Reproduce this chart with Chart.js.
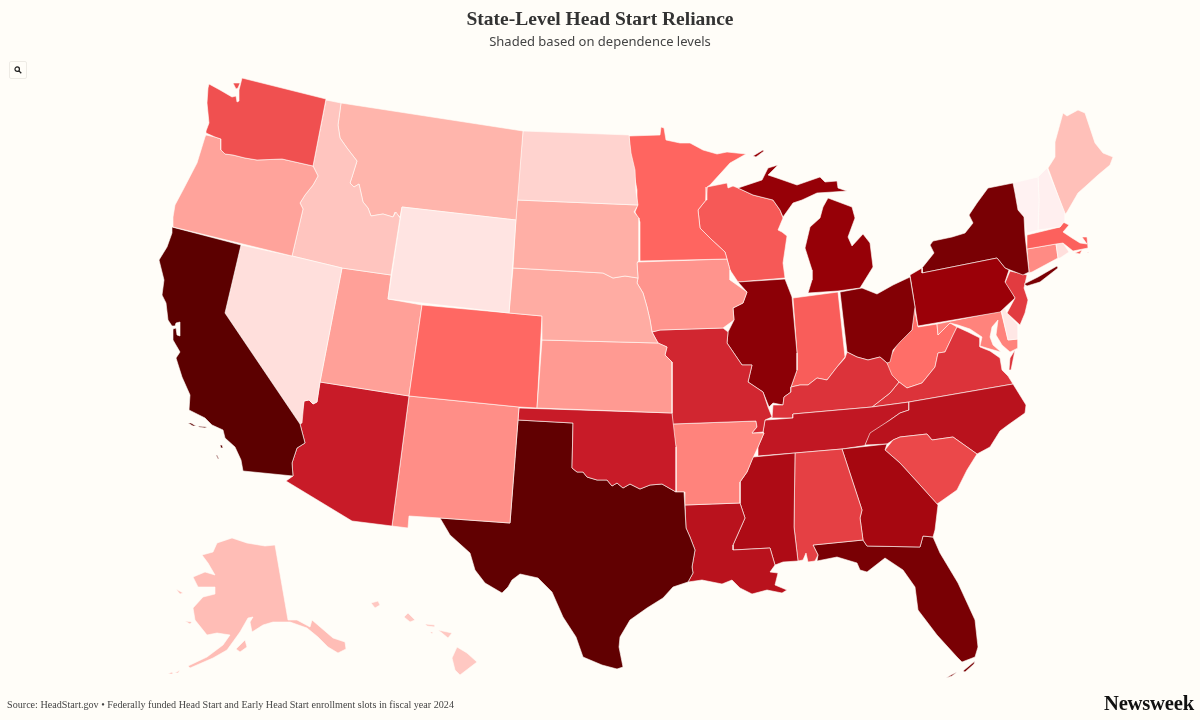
<!DOCTYPE html>
<html>
<head>
<meta charset="utf-8">
<title>State-Level Head Start Reliance</title>
<script src="https://cdn.jsdelivr.net/npm/chart.js@4"></script>
<style>
  html, body { margin: 0; padding: 0; background: #fffdf8; }
  #wrap { position: relative; width: 1200px; height: 720px; overflow: hidden; }
  #zoomBtn { position: absolute; left: 9px; top: 61px; width: 16px; height: 16px; background: #fffdf8; border: 1px solid #eeebe5; border-radius: 2px; }
  #zoomBtn svg { position: absolute; left: 4px; top: 4px; }
  #source { position: absolute; left: 7px; top: 699px; font: 10.15px "Liberation Serif", serif; color: #444; white-space: nowrap; }
  #logo { position: absolute; left: 1104px; top: 692px; font: bold 20.6px "Liberation Serif", serif; color: #111; letter-spacing: -0.2px; }
</style>
</head>
<body>
<div id="wrap">
  <canvas id="mapa" width="1200" height="720"></canvas>
  <div id="zoomBtn"><svg width="8" height="8" viewBox="0 0 9 9"><circle cx="3.6" cy="3.6" r="2.5" fill="none" stroke="#222" stroke-width="1.4"/><line x1="5.5" y1="5.5" x2="8.2" y2="8.2" stroke="#222" stroke-width="1.5"/></svg></div>
  <div id="source">Source: HeadStart.gov • Federally funded Head Start and Early Head Start enrollment slots in fiscal year 2024</div>
  <div id="logo">Newsweek</div>
</div>
<script>
// reliance index per state, estimated from the shading
const stateNames = ["Washington","Oregon","California","Nevada","Idaho","Wyoming","Montana","North Dakota","South Dakota","Nebraska","Kansas","Colorado","Utah","Arizona","New Mexico","Oklahoma","Texas","Minnesota","Iowa","Missouri","Arkansas","Louisiana","Mississippi","Alabama","Georgia","South Carolina","Florida","North Carolina","Tennessee","Kentucky","Illinois","Indiana","Ohio","Michigan","Wisconsin","Pennsylvania","New York","Vermont","New Hampshire","Maine","Massachusetts","Rhode Island","Connecticut","New Jersey","Delaware","Maryland","Virginia","West Virginia","Alaska","Hawaii"];
const reliance = [55,29,100,8,17,6,23,12,25,26,32,49,30,75,36,75,99,50,34,69,40,79,82,59,84,57,94,79,77,62,90,52,92,88,53,87,94,1,2,19,51,8,37,60,5,40,62,47,20,16];

// shading ramp, value stops and matching colours
const rampStops = [0,25,50,62,75,87,100];
const rampColors = [[255,245,245],[255,175,166],[255,101,96],[220,51,58],[200,27,40],[155,0,8],[92,0,0]];

// state outlines, flat x,y pairs in map units, one list per ring
const WA = [[242,78,326,99,313,166,282,159,257,160,245,158,233,155,225,154,221,150,221,139,215,137,206,133,206,131,209,123,207,103,208,88,209,84,220,90,232,97,236,96,237,102,239,101,239,90],[233,83,240,83,238,88,236,89]];
const OR = [[206,135,215,137,221,139,221,150,225,154,233,155,245,158,257,160,282,159,313,166,318,176,313,185,305,195,300,203,303,209,292,256,173,227,173,217,175,205,183,190,197,163,205,137]];
const CA = [[172,227,241,245,225,313,300,424,305,443,297,448,292,463,293,476,243,471,241,460,235,447,225,438,223,430,212,425,205,418,189,410,190,395,182,377,176,358,180,352,173,340,173,329,176,328,177,335,180,336,180,322,176,323,175,326,172,326,168,320,166,303,162,295,164,280,159,260,167,247,172,233],[188,423,191,423,196,426,193,426],[198,426,207,427,205,428,199,427],[220,445,222,445,223,448,221,448],[216,455,217,455,219,459,218,459]];
const NV = [[241,245,292,256,342,268,320,382,317,402,313,404,309,400,304,401,302,423,300,424,225,313]];
const ID = [[326,100,341,103,338,125,340,138,347,148,357,161,352,177,350,183,354,187,359,184,363,202,368,208,371,216,383,214,393,217,396,212,400,218,391,275,342,268,292,256,303,209,300,203,305,195,313,185,318,176,313,166]];
const WY = [[402,207,516,220,509,313,388,299]];
const MT = [[341,103,523,131,516,220,402,207,400,217,395,212,393,217,383,214,371,216,368,208,363,202,359,184,354,187,350,183,352,177,357,161,347,148,340,138,338,125]];
const ND = [[523,131,629,135,631,153,635,170,636,192,638,205,517,200]];
const SD = [[517,200,638,205,634,212,639,218,639,260,637,263,638,278,625,276,613,278,603,273,513,268]];
const NE = [[513,268,603,273,613,278,625,276,638,278,637,283,643,293,647,307,650,320,652,332,658,343,542,340,542,316,509,313]];
const KS = [[542,340,658,343,667,347,665,355,672,362,672,413,537,408]];
const CO = [[422,305,542,316,537,408,519,407,409,396]];
const UT = [[342,268,391,275,388,299,422,305,409,396,320,382]];
const AZ = [[320,382,409,396,392,526,352,521,286,481,293,476,292,463,297,448,305,443,300,424,304,401,309,400,313,404,317,402]];
const NM = [[409,396,519,407,518,420,510,523,440,518,409,516,408,528,392,526]];
const OK = [[519,408,672,413,676,447,676,492,662,484,650,485,640,489,630,484,623,488,617,483,612,486,607,480,597,480,587,477,583,472,577,472,572,468,573,423,518,420]];
const TX = [[518,420,573,423,572,468,577,472,583,472,587,477,597,480,607,480,612,486,617,483,623,488,630,484,640,489,650,485,662,484,676,492,684,492,686,528,690,537,695,550,692,567,693,573,688,582,673,587,663,598,647,608,630,620,620,637,619,647,623,667,617,669,602,665,583,657,576,637,563,617,552,592,538,578,520,574,512,580,508,587,502,593,485,583,475,570,470,553,450,535,440,518,510,523]];
const MN = [[629,136,660,135,661,127,664,128,666,140,680,143,690,143,703,150,717,154,727,152,746,154,730,163,710,185,707,187,706,200,698,210,700,228,712,240,725,252,727,259,640,261,640,222,635,212,637,207,637,190,630,153]];
const IA = [[638,262,727,259,730,270,730,280,747,292,743,303,733,308,734,320,723,328,660,330,652,332,650,320,647,307,643,293,637,283,638,278,637,263]];
const MO = [[652,332,660,330,723,328,728,332,727,343,742,365,752,365,748,382,763,392,768,407,772,417,765,420,763,432,752,433,757,427,756,421,672,424,672,413,672,362,665,355,667,347,658,343]];
const AR = [[672,424,756,421,757,427,752,433,764,433,758,447,752,460,747,472,740,482,740,503,685,505,685,492,676,492,676,447]];
const LA = [[685,505,740,503,745,518,733,545,733,550,770,548,775,565,770,572,778,573,775,585,787,590,782,593,767,590,752,594,740,588,732,580,722,584,702,580,688,582,693,573,692,567,695,550,690,537,686,528]];
const MS = [[753,457,795,453,794,527,798,561,783,562,775,565,770,548,733,550,733,545,745,518,740,503,740,482,747,472]];
const AL = [[795,453,842,449,862,510,860,518,863,540,813,545,818,555,815,561,808,562,806,553,803,560,798,561,794,527]];
const GA = [[842,449,887,444,885,450,900,463,920,485,938,505,935,530,933,537,923,536,920,547,867,546,863,540,860,518,862,510]];
const SC = [[885,450,893,440,900,437,927,434,932,440,953,437,977,454,967,470,957,490,940,502,937,504,920,485,900,463]];
const FL = [[813,545,863,540,867,546,920,547,923,536,933,537,940,553,958,583,975,620,978,647,975,657,962,662,957,657,937,635,918,610,915,587,903,570,885,558,867,572,860,570,857,563,837,557,817,561,818,555],[946,678,951,675,957,672,952,676],[963,671,975,661,974,664,965,672]];
const NC = [[909,402,1013,384,1026,405,1025,413,1008,425,1000,431,990,447,977,454,953,437,932,440,927,434,900,437,893,440,887,444,865,445,870,433,890,420,900,413,909,410]];
const TN = [[766,420,793,418,793,414,872,407,909,402,909,410,900,413,890,420,880,428,870,435,865,445.5,842,449,795,453,758,456,758,447,764,433,763,432,765,420]];
const KY = [[772,418,773,405,783,405,784,397,791,392,791,387,800,385,808,385,817,378,827,380,837,367,845,358,847,352,857,357,868,360,880,357,887,363,892,375,899,382,890,393,872,407,793,414,793,418]];
const IL = [[738,282,785,279,792,297,797,353,797,370,791,387,791,392,784,397,783,405,773,403,769,407,763,392,748,382,752,365,742,365,727,343,728,332,734,320,733,308,743,303,747,292]];
const IN = [[793,298,838,292,845,357,837,367,827,380,817,378,808,385,800,385,791,387,797,370,797,353]];
const OH = [[840,292,862,288,877,294,893,285,910,277,915,307,912,330,900,342,893,350,890,362,887,363,880,357,868,360,857,357,847,352]];
const MI = [[808,293,838,291,860,288,873,267,870,243,863,234,852,246,848,237,855,218,852,207,828,198,823,207,820,218,810,227,805,248,812,270,812,280],[738,188,762,180,768,168,778,165,768,175,777,178,797,185,820,177,825,182,837,181,838,188,847,191,833,192,817,193,802,200,793,203,783,217,780,210,773,200,753,195],[753,156,763,150,764,151,756,157]];
const WI = [[707,187,727,183,728,188,733,186,738,188,753,195,773,200,780,210,783,218,778,230,782,232,787,236,783,263,785,278,738,282,730,270,727,259,725,252,712,240,700,228,698,210,706,200]];
const PA = [[910,275,922,268,922,273,997,258,1005,268,1009,270,1005,282,1012,293,1015,298,1000,312,918,326]];
const NY = [[1013,183,988,188,977,203,969,215,973,223,965,233,952,237,933,241,930,245,934,253,922,268,922,273,997,258,1005,268,1023,275,1029,272,1025,235,1024,217,1018,210,1015,193],[1024,284,1038,277,1057,266,1058,268,1040,282,1027,286]];
const VT = [[1013,183,1038,177,1039,200,1038,230,1027,233,1024,217,1018,210,1015,193]];
const NH = [[1038,177,1047,168,1065,213,1065,221,1060,227,1038,230,1039,200]];
const ME = [[1048,168,1055,157,1055,142,1063,113,1067,116,1078,110,1085,113,1095,143,1103,153,1113,157,1110,165,1098,175,1087,185,1078,193,1067,212,1065,215]];
const MA = [[1027,235,1060,227,1063,222,1069,225,1063,232,1072,238,1080,243,1087,244,1082,237,1087,237,1088,248,1073,251,1063,243,1056,244,1027,249],[1075,253,1082,250,1080,254],[1087,252,1089,252,1089,253]];
const RI = [[1056,244,1063,243,1069,252,1060,258,1058,258]];
const CT = [[1027,249,1056,244,1058,258,1032,272,1028,273,1029,272]];
const NJ = [[1010,271,1027,275,1024,288,1028,300,1025,313,1020,325,1007,313,1015,298,1005,283]];
const DE = [[1001,309,1005,308,1007,313,1018,325,1018,339,1008,340]];
const MD = [[937,324,1001,311,1008,340,1018,339,1018,348,1010,352,1002,345,996,335,998,320,992,327,990,337,993,345,1001,352,990,349,980,346,982,337,970,329,958,325,950,323,938,335]];
const VA = [[1013,384,909,402,872,407,890,393,899,382,907,388,922,383,935,367,938,353,945,352,953,335,957,327,968,332,980,338,980,347,990,351,1000,358,1002,370,1008,376],[1015,350,1011,370,1009,370,1010,358]];
const WV = [[918,327,937,324,938,335,950,323,957,327,945,352,938,353,935,367,922,383,907,388,899,382,888,373,887,363,895,348,900,340,912,330,914,307]];
const AK = [[275,545,288,620,297,620,310,627,312,620,333,638,345,642,346,649,338,653,328,647,318,637,307,628,290,622,273,622,263,625,252,632,250,622,253,617,248,618,240,632,227,650,213,658,190,668,188,666,207,657,223,645,230,635,217,633,207,635,195,620,193,608,203,597,215,594,215,587,198,587,193,577,205,572,215,575,208,563,202,555,213,552,217,543,232,538,247,543,265,546],[236,649,245,640,247,647,240,652],[185,621,192,622,190,624],[176,589,183,593,180,594],[168,674,172,672,173,674],[175,673,180,670,178,673]];
const HI = [[457,647,467,653,477,662,460,675,455,670,452,658],[438,630,452,633,448,638,442,633],[425,624,435,625,435,627,427,626],[404,617,408,613,415,620,410,622],[371,603,378,601,380,605,375,608],[430,632,433,632,432,634]];

const stateRings = [WA,OR,CA,NV,ID,WY,MT,ND,SD,NE,KS,CO,UT,AZ,NM,OK,TX,MN,IA,MO,AR,LA,MS,AL,GA,SC,FL,NC,TN,KY,IL,IN,OH,MI,WI,PA,NY,VT,NH,ME,MA,RI,CT,NJ,DE,MD,VA,WV,AK,HI];

function shade(v) {
  let i = 0;
  while (i < rampStops.length - 2 && v > rampStops[i + 1]) i++;
  const t = (v - rampStops[i]) / (rampStops[i + 1] - rampStops[i]);
  const c = rampColors[i].map((a, k) => Math.round(a + (rampColors[i + 1][k] - a) * t));
  return `rgb(${c[0]},${c[1]},${c[2]})`;
}

function toPoints(flat) {
  const pts = [];
  for (let i = 0; i < flat.length; i += 2) pts.push({ x: flat[i], y: flat[i + 1] });
  pts.push({ x: flat[0], y: flat[1] });
  return pts;
}

const datasets = [];
stateRings.forEach((rings, s) => {
  rings.forEach(ring => {
    datasets.push({
      label: stateNames[s],
      data: toPoints(ring),
      showLine: true,
      fill: "shape",
      tension: 0,
      pointRadius: 0,
      pointHitRadius: 0,
      borderWidth: 0.8,
      borderColor: "rgba(255,253,248,0.75)",
      backgroundColor: shade(reliance[s])
    });
  });
});

new Chart(document.getElementById("mapa"), {
  type: "scatter",
  data: { datasets },
  options: {
    responsive: false,
    animation: false,
    layout: { padding: 0 },
    plugins: {
      legend: { display: false },
      tooltip: { enabled: false },
      title: {
        display: true,
        text: "State-Level Head Start Reliance",
        color: "#333333",
        font: { family: "'Liberation Serif', serif", size: 19.5, weight: "bold", lineHeight: 1.2 },
        padding: { top: 8, bottom: 0 }
      },
      subtitle: {
        display: true,
        text: "Shaded based on dependence levels",
        color: "#444444",
        font: { family: "'Noto Sans', sans-serif", size: 13, weight: "normal", lineHeight: 1.2 },
        padding: { top: 3, bottom: 0 }
      }
    },
    scales: {
      x: { type: "linear", display: false, min: 0, max: 1200 },
      y: { type: "linear", display: false, min: 50.0, max: 720, reverse: true }
    }
  }
});
</script>
</body>
</html>
